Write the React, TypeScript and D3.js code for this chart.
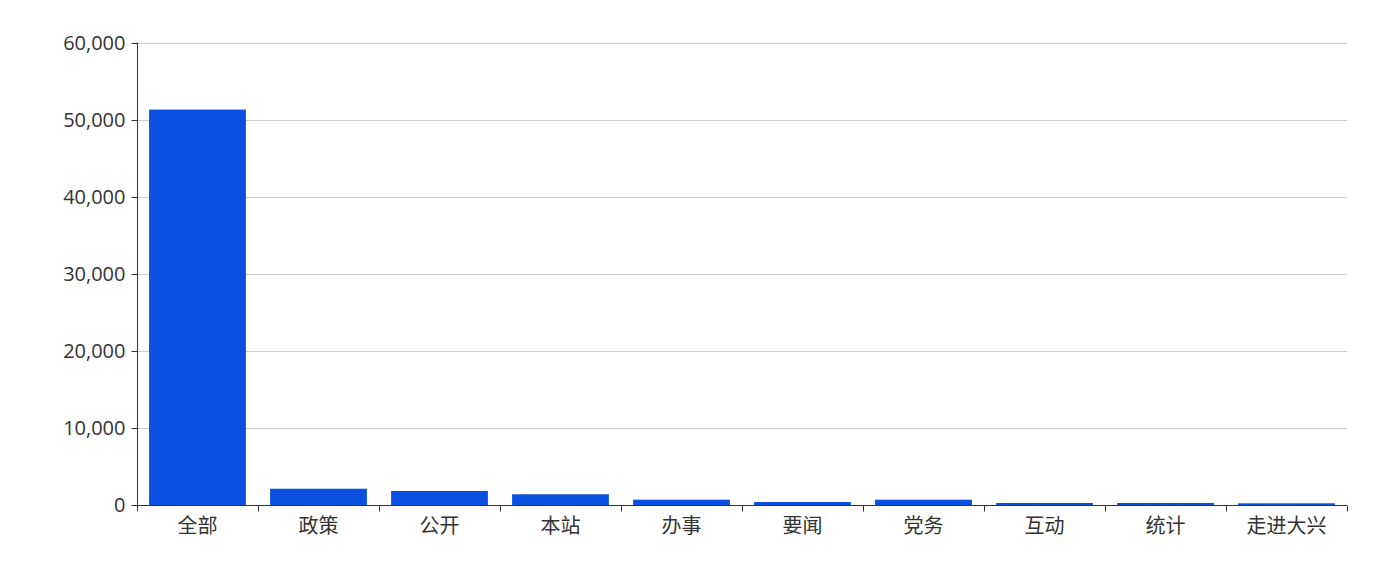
import React, { useEffect, useRef } from "react";
import * as d3 from "d3";

const categories = ["全部", "政策", "公开", "本站", "办事", "要闻", "党务", "互动", "统计", "走进大兴"];
const values = [51300, 2110, 1820, 1390, 690, 390, 690, 260, 260, 220];
const yTicks = [0, 10000, 20000, 30000, 40000, 50000, 60000];

const W = 1375;
const H = 561;
const margin = { top: 42.5, right: 28, bottom: 56, left: 137 };
const FONT = "'Open Sans', 'Noto Sans CJK SC', sans-serif";

export default function App() {
  const ref = useRef<SVGSVGElement>(null);
  useEffect(() => {
    const svg = d3.select(ref.current);
    svg.selectAll("*").remove();
    const x = d3
      .scaleBand<string>()
      .domain(categories)
      .range([margin.left, W - margin.right])
      .paddingInner(0.2)
      .paddingOuter(0.1);
    const y = d3
      .scaleLinear()
      .domain([0, 60000])
      .range([H - margin.bottom, margin.top]);
    const fmt = d3.format(",");

    // grid
    svg
      .append("g")
      .selectAll("line")
      .data(yTicks.filter((t) => t > 0))
      .join("line")
      .attr("x1", margin.left)
      .attr("x2", W - margin.right)
      .attr("y1", (d) => Math.round(y(d)) + 0.5)
      .attr("y2", (d) => Math.round(y(d)) + 0.5)
      .attr("stroke", "#cccccc")
      .attr("stroke-width", 1);

    // bars
    svg
      .append("g")
      .selectAll("rect")
      .data(values)
      .join("rect")
      .attr("x", (_, i) => x(categories[i])!)
      .attr("width", x.bandwidth())
      .attr("y", (d) => y(d))
      .attr("height", (d) => y(0) - y(d))
      .attr("fill", "#0b50e0");

    const x0 = margin.left;
    const step = x.step();
    const axisY = Math.round(y(0)) + 0.5;
    const axisX = Math.round(x0) + 0.5;

    // y axis
    const ya = svg.append("g");
    ya.append("line")
      .attr("x1", axisX)
      .attr("x2", axisX)
      .attr("y1", y(60000))
      .attr("y2", y(0))
      .attr("stroke", "#333")
      .attr("stroke-width", 1);
    ya.selectAll("line.tick")
      .data(yTicks)
      .join("line")
      .attr("class", "tick")
      .attr("x1", axisX - 6)
      .attr("x2", axisX)
      .attr("y1", (d) => Math.round(y(d)) + 0.5)
      .attr("y2", (d) => Math.round(y(d)) + 0.5)
      .attr("stroke", "#333");
    ya.selectAll("text")
      .data(yTicks)
      .join("text")
      .attr("x", axisX - 12)
      .attr("y", (d) => y(d))
      .attr("dy", "0.35em")
      .attr("text-anchor", "end")
      .attr("font-family", FONT)
      .attr("font-size", 20)
      .attr("fill", "#333")
      .text((d) => fmt(d));

    // x axis
    const xa = svg.append("g");
    xa.append("line")
      .attr("x1", x0)
      .attr("x2", W - margin.right)
      .attr("y1", axisY)
      .attr("y2", axisY)
      .attr("stroke", "#333");
    xa.selectAll("line.tick")
      .data(d3.range(categories.length + 1))
      .join("line")
      .attr("class", "tick")
      .attr("x1", (i) => Math.round(x0 + i * step) + 0.5)
      .attr("x2", (i) => Math.round(x0 + i * step) + 0.5)
      .attr("y1", axisY)
      .attr("y2", axisY + 6)
      .attr("stroke", "#333");
    xa.selectAll("text")
      .data(categories)
      .join("text")
      .attr("x", (d) => x(d)! + x.bandwidth() / 2)
      .attr("y", axisY + 20)
      .attr("dy", "0.35em")
      .attr("text-anchor", "middle")
      .attr("font-family", FONT)
      .attr("font-size", 20)
      .attr("fill", "#333")
      .text((d) => d);
  }, []);

  return (
    <svg
      ref={ref}
      width={W}
      height={H}
      style={{ position: "absolute", left: 0, top: 0, display: "block" }}
    />
  );
}
